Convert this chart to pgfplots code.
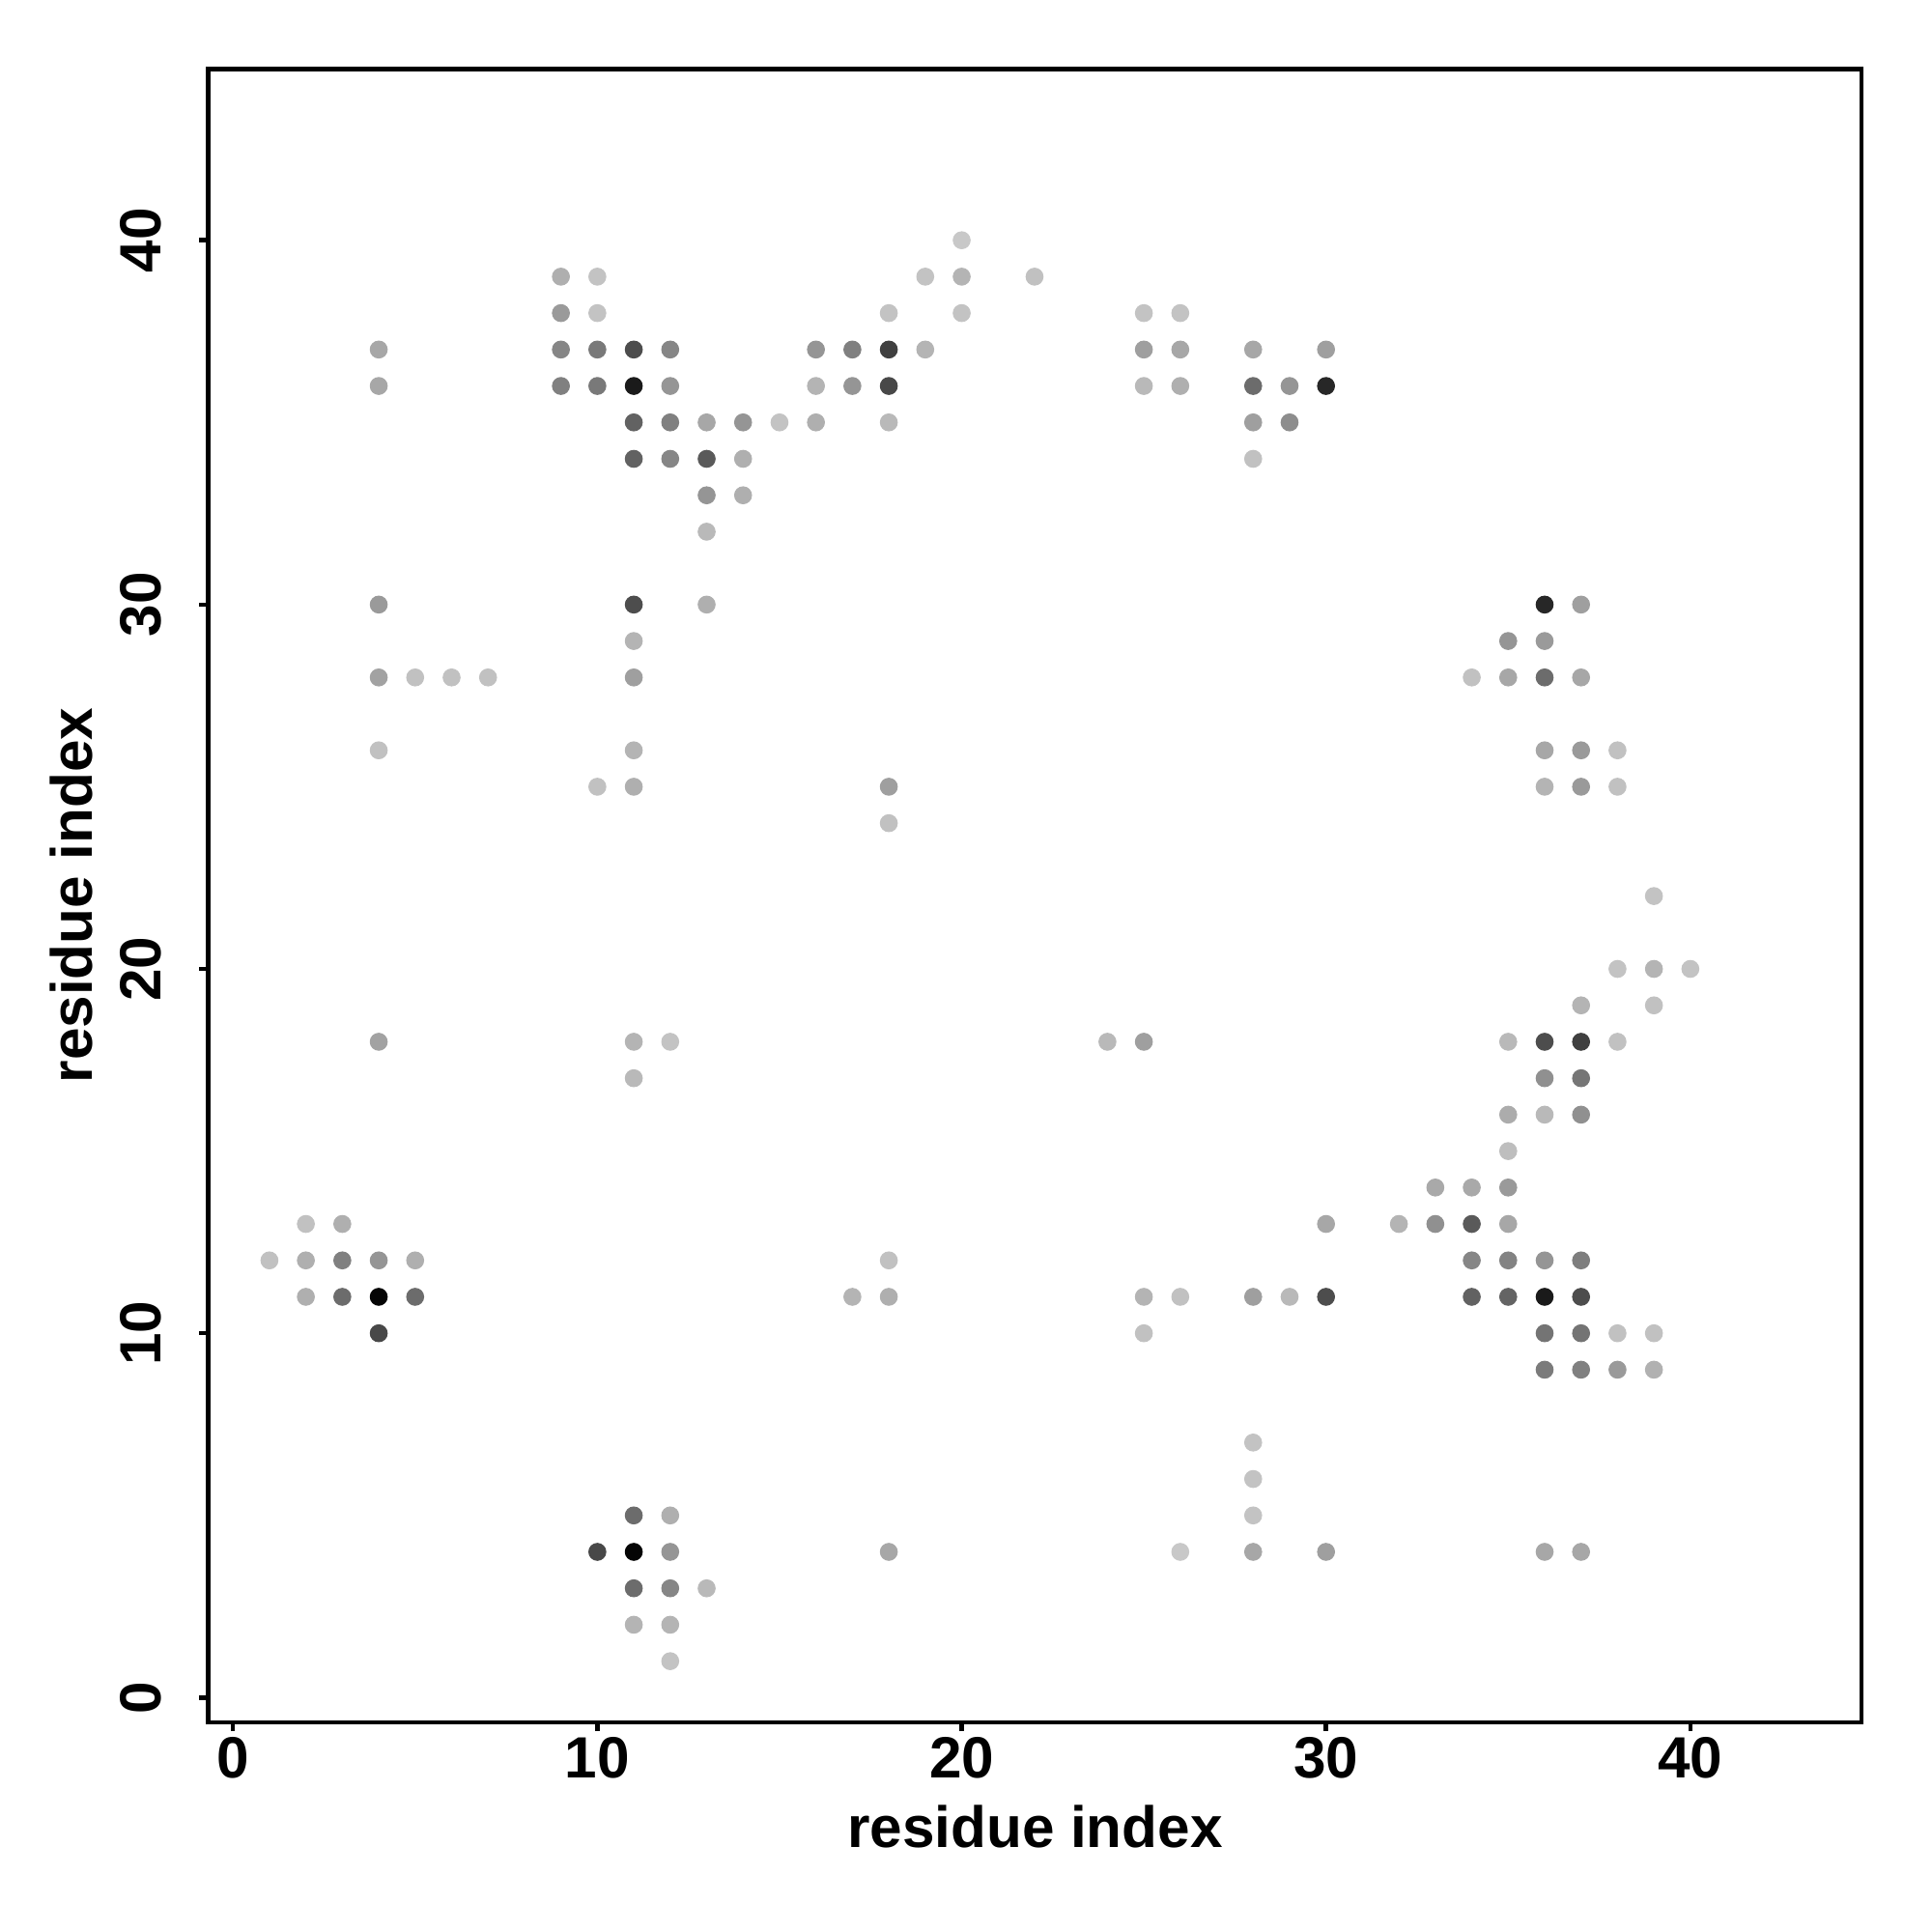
\documentclass[border=0pt]{standalone}
\usepackage{pgfplots}
\pgfplotsset{compat=1.18}
\usepackage{pgfplotstable}
\usepackage{fontspec}
\setmainfont{Liberation Sans}
\pgfplotstableread{
x y g
1 12 0.75
2 13 0.75
2 12 0.68
2 11 0.68
3 13 0.68
3 12 0.50
3 11 0.42
4 37 0.65
4 36 0.65
4 30 0.60
4 28 0.63
4 26 0.75
4 18 0.63
4 12 0.58
4 11 0.02
4 10 0.28
5 28 0.75
5 12 0.68
5 11 0.42
6 28 0.75
7 28 0.75
9 39 0.68
9 38 0.60
9 37 0.52
9 36 0.50
10 39 0.76
10 38 0.76
10 37 0.47
10 36 0.47
10 25 0.75
10 4 0.28
11 37 0.30
11 36 0.10
11 35 0.38
11 34 0.38
11 30 0.30
11 29 0.70
11 28 0.62
11 26 0.70
11 25 0.68
11 18 0.70
11 17 0.72
11 5 0.42
11 4 0.02
11 3 0.42
11 2 0.70
12 37 0.52
12 36 0.58
12 35 0.50
12 34 0.52
12 18 0.76
12 5 0.68
12 4 0.58
12 3 0.52
12 2 0.70
12 1 0.76
13 35 0.65
13 34 0.35
13 33 0.58
13 32 0.72
13 30 0.68
13 3 0.72
14 35 0.58
14 34 0.68
14 33 0.68
15 35 0.76
16 37 0.58
16 36 0.70
16 35 0.68
17 37 0.50
17 36 0.58
17 11 0.70
18 38 0.76
18 37 0.25
18 36 0.28
18 35 0.72
18 25 0.62
18 24 0.75
18 12 0.75
18 11 0.68
18 4 0.65
19 39 0.76
19 37 0.70
20 40 0.78
20 39 0.70
20 38 0.76
22 39 0.75
24 18 0.72
25 38 0.76
25 37 0.62
25 36 0.72
25 18 0.62
25 11 0.70
25 10 0.75
26 38 0.76
26 37 0.65
26 36 0.68
26 11 0.75
26 4 0.78
28 37 0.65
28 36 0.42
28 35 0.62
28 34 0.75
28 11 0.62
28 7 0.76
28 6 0.76
28 5 0.76
28 4 0.65
29 36 0.58
29 35 0.55
29 11 0.72
30 37 0.62
30 36 0.15
30 13 0.65
30 11 0.30
30 4 0.62
32 13 0.70
33 14 0.66
33 13 0.56
34 28 0.75
34 14 0.66
34 13 0.35
34 12 0.52
34 11 0.38
35 29 0.58
35 28 0.65
35 18 0.72
35 16 0.67
35 15 0.74
35 14 0.60
35 13 0.65
35 12 0.51
35 11 0.39
36 30 0.15
36 29 0.60
36 28 0.42
36 26 0.65
36 25 0.70
36 18 0.30
36 17 0.56
36 16 0.72
36 12 0.58
36 11 0.10
36 10 0.45
36 9 0.48
36 4 0.65
37 30 0.62
37 28 0.65
37 26 0.60
37 25 0.60
37 19 0.70
37 18 0.25
37 17 0.46
37 16 0.56
37 12 0.49
37 11 0.30
37 10 0.45
37 9 0.50
37 4 0.65
38 26 0.75
38 25 0.75
38 20 0.76
38 18 0.75
38 10 0.75
38 9 0.60
39 22 0.76
39 20 0.70
39 19 0.75
39 10 0.75
39 9 0.69
40 20 0.76
}\contacts
\begin{document}
\begin{tikzpicture}
\begin{axis}[
  scale only axis,
  width=11.98cm, height=11.98cm,
  xmin=-0.676, xmax=44.70, ymin=-0.676, ymax=44.70,
  xtick={0,10,20,30,40}, ytick={0,10,20,30,40},
  tick align=outside, major tick length=0.065cm,
  xtick pos=bottom, ytick pos=left,
  axis line style={line width=0.9pt},
  every tick/.style={black, line width=0.9pt},
  /pgf/number format/assume math mode=true,
  ticklabel style={font=\bfseries\fontsize{12}{14}\selectfont, inner sep=0pt},
  xticklabel style={anchor=north},
  xticklabel shift=0.035cm,
  yticklabel style={rotate=90, anchor=south},
  yticklabel shift=0.265cm,
  xlabel={residue index}, ylabel={residue index},
  label style={font=\bfseries\fontsize{12}{14}\selectfont, inner sep=0pt},
  xlabel style={at={(axis description cs:0.5,-0.076)}, anchor=base},
  ylabel style={at={(axis description cs:-0.0701,0.5)}, anchor=base, rotate=0},
  colormap={bw}{gray(0cm)=(0); gray(1cm)=(1)},
  point meta min=0, point meta max=1,
]
\addplot[scatter, only marks, mark=*, mark size=1.75pt,
  scatter/use mapped color={draw=mapped color, fill=mapped color},
  mark options={line width=0.2pt},
  point meta=explicit] table[x=x, y=y, meta=g] {\contacts};
\end{axis}
\path (current axis.south west) ++(-1.51cm,-1.52cm) coordinate (bbsw);
\path (current axis.north east) ++(0.51cm,0.50cm) coordinate (bbne);
\useasboundingbox (bbsw) rectangle (bbne);
\end{tikzpicture}
\end{document}
